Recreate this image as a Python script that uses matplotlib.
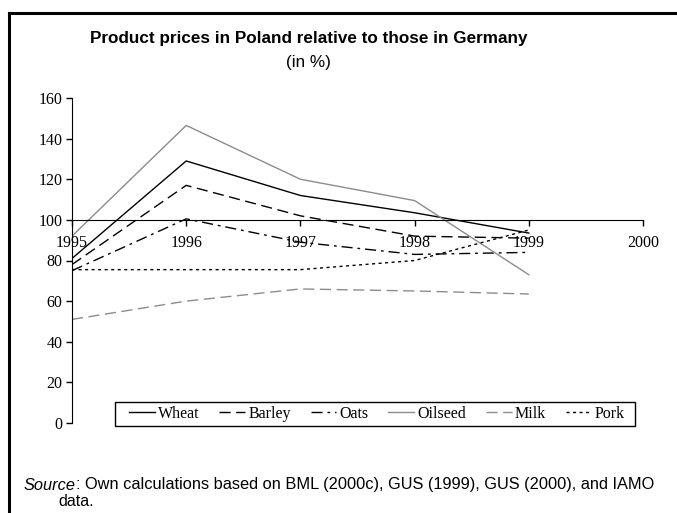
import matplotlib
matplotlib.use('Agg')
import matplotlib.pyplot as plt
from matplotlib.lines import Line2D
from matplotlib.patches import Rectangle

years = [1995, 1996, 1997, 1998, 1999]
tick_years = [1995, 1996, 1997, 1998, 1999, 2000]

wheat = [81, 129, 112, 103.5, 93.5]
barley = [78, 117, 102, 92, 91]
oats = [75, 100.5, 89, 83, 84]
oilseed = [92, 146.5, 120, 109.5, 73]
milk = [51, 60, 66, 65, 63.5]
pork = [75.5, 75.5, 75.5, 80, 95]

W, H = 677, 513
serif = 'Liberation Serif'
sans = 'Liberation Sans'

fig = plt.figure(figsize=(W / 100, H / 100), dpi=100)
ax = fig.add_axes([72 / W, (H - 423) / H, (643 - 72) / W, (423 - 98) / H])

lw = 1.0
grey = '#8c8c8c'
ax.plot(years, wheat, color='black', lw=lw, label='Wheat')
ax.plot(years, barley, color='black', lw=lw, dashes=(8, 4), label='Barley')
ax.plot(years, oats, color='black', lw=lw, dashes=(8, 3.5, 2, 3.5), label='Oats')
ax.plot(years, oilseed, color=grey, lw=lw, label='Oilseed')
ax.plot(years, milk, color=grey, lw=lw, dashes=(8, 4), label='Milk')
ax.plot(years, pork, color='black', lw=lw, dashes=(2.2, 2.5), label='Pork')

ax.set_xlim(1995, 2000)
ax.set_ylim(0, 160)
ax.set_yticks(range(0, 161, 20))
ax.set_xticks(tick_years)
ax.set_xticklabels([str(y) for y in tick_years])

for s in ['top', 'right']:
    ax.spines[s].set_visible(False)
ax.spines['bottom'].set_position(('data', 100))

ax.tick_params(axis='x', direction='out', length=4, width=1, pad=7, labelsize=11.5)
ax.tick_params(axis='y', direction='out', length=4, width=1, pad=3, labelsize=11.5)
for lab in ax.get_xticklabels() + ax.get_yticklabels():
    lab.set_fontfamily(serif)

# legend without its own frame, a box with wider side padding is drawn round it
leg = ax.legend(ncol=6, loc='center', bbox_to_anchor=(377 / W, 1 - 414 / H),
                bbox_transform=fig.transFigure, frameon=False,
                prop={'family': serif, 'size': 11.5}, handlelength=1.6,
                handletextpad=0.2, columnspacing=1.25, borderpad=0)

fig.text(308.5 / W, 1 - 38 / H, 'Product prices in Poland relative to those in Germany',
         ha='center', va='center', fontsize=12.3, fontweight='bold', family=sans)
fig.text(308.5 / W, 1 - 63 / H, '(in %)', ha='center', va='center',
         fontsize=12.3, family=sans)

src = fig.text(24 / W, 1 - 485 / H, 'Source', ha='left', va='center',
               fontsize=11.8, fontstyle='italic', family=sans)
ax.annotate(': Own calculations based on BML (2000c), GUS (1999), GUS (2000), and IAMO',
            xy=(1, 0), xycoords=src, ha='left', va='bottom',
            fontsize=11.8, family=sans, annotation_clip=False)
fig.text(58 / W, 1 - 501 / H, 'data.', ha='left', va='center', fontsize=11.5, family=sans)

# border on left and top
fig.add_artist(Line2D([9 / W, 9 / W], [0, 1 - 13 / H], transform=fig.transFigure,
                      color='black', lw=2.2, solid_capstyle='projecting'))
fig.add_artist(Line2D([9 / W, 1], [1 - 13 / H, 1 - 13 / H], transform=fig.transFigure,
                      color='black', lw=2.2, solid_capstyle='projecting'))

fig.canvas.draw()
bb = leg.get_window_extent(fig.canvas.get_renderer())
inv = fig.transFigure.inverted()
(x0, y0), (x1, y1) = inv.transform([(bb.x0 - 14, bb.y0 - 4), (bb.x1 + 10, bb.y1 + 4)])
fig.add_artist(Rectangle((x0, y0), x1 - x0, y1 - y0, transform=fig.transFigure,
                         fill=False, edgecolor='black', lw=1.0))

fig.savefig('out.png', dpi=100)
